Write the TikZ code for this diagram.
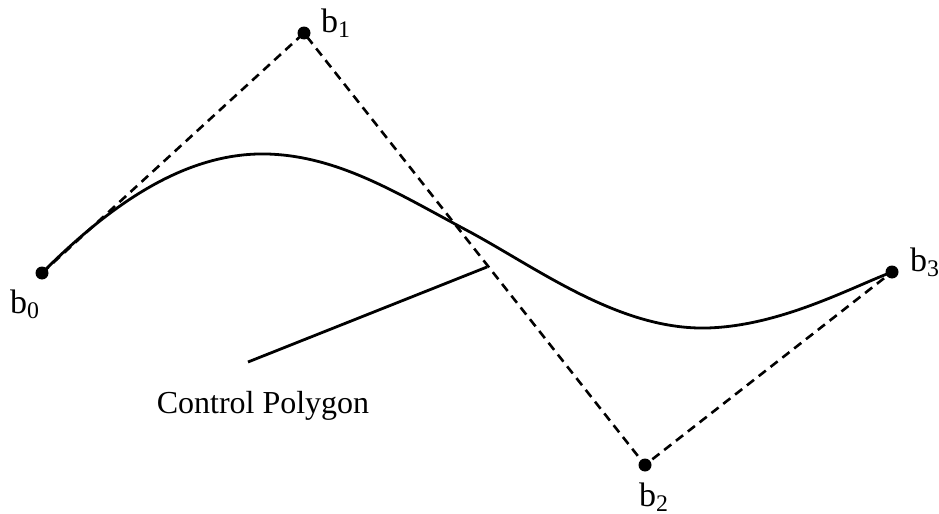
\documentclass[tikz,border=0pt]{standalone}
\usepackage{fontspec}
\setmainfont{Liberation Serif}
\tikzset{
  ctrlpt/.style={circle, fill=black, inner sep=0pt, minimum size=6.5pt},
  ptlabel/.style={font=\fontsize{17}{20}\selectfont, inner sep=0pt},
  polyline/.style={line width=1.3pt, dash pattern=on 4.5pt off 3pt},
  curveline/.style={line width=1.4pt},
}
\begin{document}
\begin{tikzpicture}[x=0.5pt, y=-0.5pt]
  \useasboundingbox (0,0) rectangle (939,514);

  % Control points
  \node[ctrlpt] (b0) at (42,273) {};
  \node[ctrlpt] (b1) at (304,33) {};
  \node[ctrlpt] (b2) at (645,465) {};
  \node[ctrlpt] (b3) at (892,272) {};

  \node[ptlabel] (l0) at (25,304) {b\textsubscript{0}};
  \node[ptlabel] (l1) at (336,23) {b\textsubscript{1}};
  \node[ptlabel] (l2) at (654,497) {b\textsubscript{2}};
  \node[ptlabel] (l3) at (925,262) {b\textsubscript{3}};

  % Control polygon (dashed)
  \draw[polyline] (b0.center) -- (b1.center) -- (b2.center) -- (b3.center);

  % Curve
  \draw[curveline] (b0.center) .. controls (110,205) and (185,152) .. (267,154)
    .. controls (340,156) and (400,195) .. (470,232)
    .. controls (540,270) and (620,330) .. (707,328)
    .. controls (780,326) and (850,288) .. (b3.center);

  % Label with leader
  \node[font=\fontsize{16}{19}\selectfont] (cp) at (263,406) {Control Polygon};
  \coordinate (cpfoot) at (248,362);
  \coordinate (cptip) at (487,267);
  \draw[curveline] (cpfoot) -- (cptip);
\end{tikzpicture}
\end{document}
